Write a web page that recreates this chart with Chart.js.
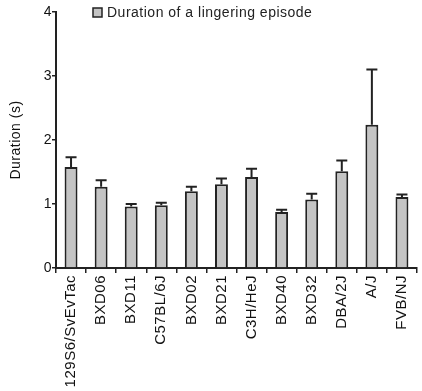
<!DOCTYPE html>
<html>
<head>
<meta charset="utf-8">
<script src="https://cdn.jsdelivr.net/npm/chart.js@4"></script>
<style>
  html, body { margin: 0; padding: 0; background: #fff; }
  #wrap { width: 422px; height: 391px; position: relative; }
</style>
</head>
<body>
<div id="wrap"><canvas id="grafico"></canvas></div>
<script>
const linhagens = [
  "129S6/SvEvTac", "BXD06", "BXD11", "C57BL/6J", "BXD02", "BXD21",
  "C3H/HeJ", "BXD40", "BXD32", "DBA/2J", "A/J", "FVB/NJ",
];
const duracao = [1.58, 1.27, 0.96, 0.98, 1.20, 1.31, 1.42, 0.875, 1.07, 1.51, 2.24, 1.11];
const erroPadrao = [0.15, 0.10, 0.04, 0.04, 0.07, 0.09, 0.13, 0.035, 0.09, 0.17, 0.86, 0.04];
const ticksY = [0, 1, 2, 3, 4];

const corTraco = "#222";
const fonte = "'Liberation Sans', Arial, sans-serif";

// texto um pouco espaçado, como no gráfico original do Prism
const pluginEspacamento = {
  id: "espacamento",
  beforeDraw(chart) {
    chart.ctx.letterSpacing = "0.5px";
  },
};

// barras de erro (só para cima, com "chapéu")
const pluginErro = {
  id: "barrasErro",
  afterDatasetsDraw(chart) {
    const ctx = chart.ctx;
    const meta = chart.getDatasetMeta(0);
    const y = chart.scales.y;
    ctx.save();
    ctx.strokeStyle = corTraco;
    ctx.lineWidth = 2;
    meta.data.forEach((bar, i) => {
      const topo = y.getPixelForValue(duracao[i]);
      const fim = y.getPixelForValue(duracao[i] + erroPadrao[i]);
      ctx.beginPath();
      ctx.moveTo(bar.x, topo);
      ctx.lineTo(bar.x, fim);
      ctx.moveTo(bar.x - 5.5, fim);
      ctx.lineTo(bar.x + 5.5, fim);
      ctx.stroke();
    });
    ctx.restore();
  },
};

// legenda desenhada à mão no topo
const pluginLegenda = {
  id: "legendaTopo",
  afterDraw(chart) {
    const ctx = chart.ctx;
    ctx.save();
    ctx.fillStyle = "#c4c4c4";
    ctx.fillRect(93, 8, 9, 9);
    ctx.strokeStyle = corTraco;
    ctx.lineWidth = 1.5;
    ctx.strokeRect(93, 8, 9, 9);
    ctx.fillStyle = "#222";
    ctx.font = "14px " + fonte;
    ctx.letterSpacing = "0.5px";
    ctx.textBaseline = "middle";
    ctx.fillText(chart.data.datasets[0].label, 107, 13.5);
    ctx.restore();
  },
};

new Chart(document.getElementById("grafico"), {
  type: "bar",
  data: {
    labels: linhagens,
    datasets: [
      {
        label: "Duration of a lingering episode",
        data: duracao,
        backgroundColor: "#c4c4c4",
        borderColor: corTraco,
        borderWidth: 2,
        borderSkipped: "bottom",
        barPercentage: 0.43,
        categoryPercentage: 1,
      },
    ],
  },
  options: {
    responsive: true,
    maintainAspectRatio: false,
    animation: false,
    layout: { padding: { left: 0, right: 1, top: 12, bottom: 0 } },
    plugins: {
      legend: { display: false },
      tooltip: { enabled: false },
    },
    scales: {
      x: {
        grid: {
          offset: true,
          drawOnChartArea: false,
          tickLength: 5,
          color: corTraco,
          lineWidth: 1.5,
        },
        border: { color: corTraco, width: 2 },
        ticks: {
          minRotation: 90,
          maxRotation: 90,
          color: "#111",
          padding: 2,
          font: { family: fonte, size: 15 },
        },
        afterFit(scale) { scale.height = 123; },
      },
      y: {
        min: 0,
        max: 4,
        afterBuildTicks(scale) {
          scale.ticks = ticksY.map((v) => ({ value: v }));
        },
        grid: {
          drawOnChartArea: false,
          tickLength: 4,
          color: corTraco,
          lineWidth: 1.5,
        },
        border: { color: corTraco, width: 2 },
        ticks: {
          color: "#111",
          padding: 0,
          font: { family: fonte, size: 14 },
        },
        title: {
          display: true,
          text: "Duration (s)",
          color: "#111",
          padding: { top: 8, bottom: 0 },
          font: { family: fonte, size: 14 },
        },
        afterFit(scale) { scale.width = 56; },
      },
    },
  },
  plugins: [pluginEspacamento, pluginErro, pluginLegenda],
});
</script>
</body>
</html>
